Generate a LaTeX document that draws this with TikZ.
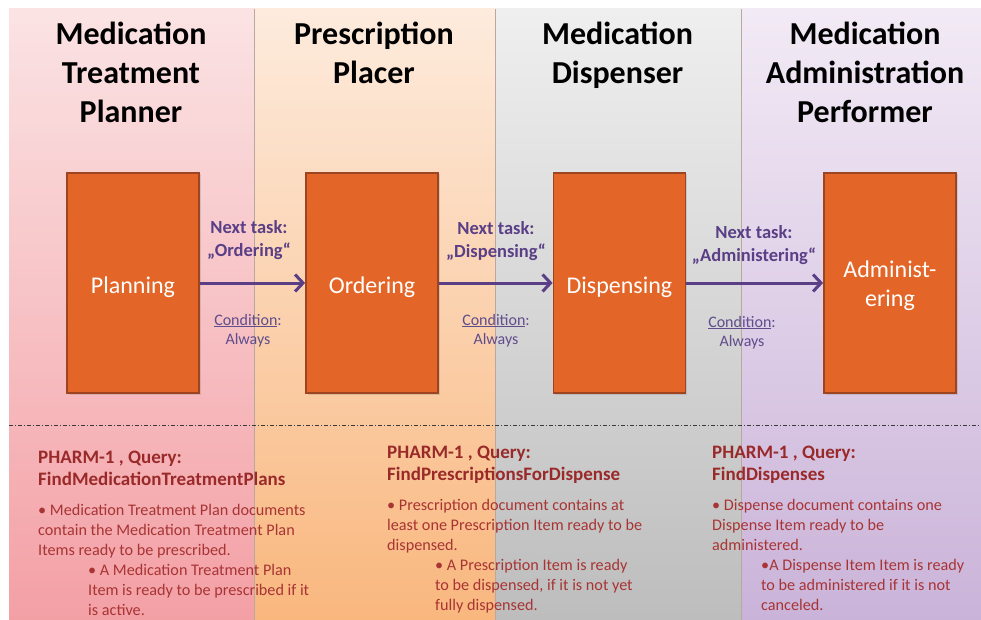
\documentclass[tikz,border=0pt]{standalone}
\usepackage{fontspec}
\setmainfont{Carlito}
\usetikzlibrary{arrows.meta,shadows}
\definecolor{laneAtop}{HTML}{FBE3E4}
\definecolor{laneAbot}{HTML}{F3A0A5}
\definecolor{laneBtop}{HTML}{FDEBDD}
\definecolor{laneBbot}{HTML}{F9B77E}
\definecolor{laneCtop}{HTML}{EFEFEF}
\definecolor{laneCbot}{HTML}{BDBDBD}
\definecolor{laneDtop}{HTML}{F2EAF5}
\definecolor{laneDbot}{HTML}{CAB3D9}
\definecolor{boxfill}{HTML}{E36628}
\definecolor{boxborder}{HTML}{9C4520}
\definecolor{flowpurple}{HTML}{5A3F87}
\definecolor{condpurple}{HTML}{5F4D8C}
\definecolor{qheadred}{HTML}{9A2A2A}
\definecolor{qbodyred}{HTML}{A83434}
\definecolor{sepgray}{HTML}{3A3A3A}
\definecolor{lanesepcol}{HTML}{B8A8A0}
\begin{document}
\begin{tikzpicture}[x=1pt,y=-1pt,
  lanetitle/.style={font=\fontsize{32}{39}\selectfont\bfseries, align=center, anchor=base, inner sep=0pt, text=black},
  task/.style={draw=boxborder, line width=1.8pt, fill=boxfill, minimum width=132pt, minimum height=220pt, inner sep=0pt, text=white, font=\fontsize{24}{29}\selectfont, align=center, text height=26pt, text depth=6pt,
    drop shadow={opacity=0.25, shadow xshift=1.5pt, shadow yshift=-1.5pt}},
  twoline/.style={text height=49pt, text depth=3pt},
  flow/.style={draw=flowpurple, line width=3pt, -{Straight Barb[length=8pt,width=17pt,line width=3pt]}},
  nexttask/.style={font=\fontsize{18.5}{23}\selectfont\bfseries, text=flowpurple, align=center, anchor=base, inner sep=0pt},
  cond/.style={font=\fontsize{16}{19}\selectfont, text=condpurple, align=center, anchor=base, inner sep=0pt},
  qhead/.style={font=\fontsize{19}{22}\selectfont\bfseries, text=qheadred, align=left, anchor=base west, inner sep=0pt},
  qbody/.style={font=\fontsize{16.2}{20}\selectfont, text=qbodyred, align=left, anchor=base west, inner sep=0pt},
  sepline/.style={draw=sepgray, line width=0.9pt, dash pattern=on 4pt off 2pt on 1pt off 2pt},
  lanesep/.style={draw=lanesepcol, line width=0.8pt}
]
\useasboundingbox (0,0) rectangle (981,620);
% lanes
\shade[top color=laneAtop, bottom color=laneAbot] (9,9) rectangle (254,620);
\shade[top color=laneBtop, bottom color=laneBbot] (254,9) rectangle (495,620);
\shade[top color=laneCtop, bottom color=laneCbot] (495,9) rectangle (741,620);
\shade[top color=laneDtop, bottom color=laneDbot] (741,9) rectangle (981,620);
\draw[lanesep] (254,9) -- (254,620);
\draw[lanesep] (495,9) -- (495,620);
\draw[lanesep] (741,9) -- (741,620);
% titles (anchor = baseline of last line)
\node[lanetitle] (t1) at (131,123) {Medication\\Treatment\\Planner};
\node[lanetitle] (t2) at (374,84) {Prescription\\Placer};
\node[lanetitle] (t3) at (617.5,84) {Medication\\Dispenser};
\node[lanetitle] (t4) at (865,123) {Medication\\Administration\\Performer};
% tasks
\node[task] (plan) at (133,283) {Planning};
\node[task] (order) at (372,283) {Ordering};
\node[task] (disp) at (619.5,283) {Dispensing};
\node[task, twoline] (admin) at (890,283) {Administ-\\ering};
% flows
\draw[flow] (plan.east) -- (order.west);
\draw[flow] (order.east) -- (disp.west);
\draw[flow] (disp.east) -- (admin.west);
\node[nexttask] (n1) at (249,256) {Next task:\\„Ordering“};
\node[nexttask] (n2) at (496,257) {Next task:\\„Dispensing“};
\node[nexttask] (n3) at (754,261) {Next task:\\„Administering“};
\node[cond] (c1) at (248,344) {\underline{Condition}:\\Always};
\node[cond] (c2) at (496,344) {\underline{Condition}:\\Always};
\node[cond] (c3) at (742,346) {\underline{Condition}:\\Always};
% separator
\coordinate (sepL) at (9,425);
\coordinate (sepR) at (981,425);
\draw[sepline] (sepL) -- (sepR);
% queries (anchor = baseline of last line)
\node[qhead] (h1) at (38,485) {PHARM-1 , Query:\\FindMedicationTreatmentPlans};
\node[qbody] (b1) at (38,555) {• Medication Treatment Plan documents\\contain the Medication Treatment Plan\\Items ready to be prescribed.};
\node[qbody] (s1) at (88,615) {• A Medication Treatment Plan\\Item is ready to be prescribed if it\\is active.};
\node[qhead] (h2) at (387,480) {PHARM-1 , Query:\\FindPrescriptionsForDispense};
\node[qbody] (b2) at (387,550) {• Prescription document contains at\\least one Prescription Item ready to be\\dispensed.};
\node[qbody] (s2) at (435,610) {• A Prescription Item is ready\\to be dispensed, if it is not yet\\fully dispensed.};
\node[qhead] (h3) at (712,480) {PHARM-1 , Query:\\FindDispenses};
\node[qbody] (b3) at (712,550) {• Dispense document contains one\\Dispense Item ready to be\\administered.};
\node[qbody] (s3) at (761,610) {•A Dispense Item Item is ready\\to be administered if it is not\\canceled.};
\end{tikzpicture}
\end{document}
